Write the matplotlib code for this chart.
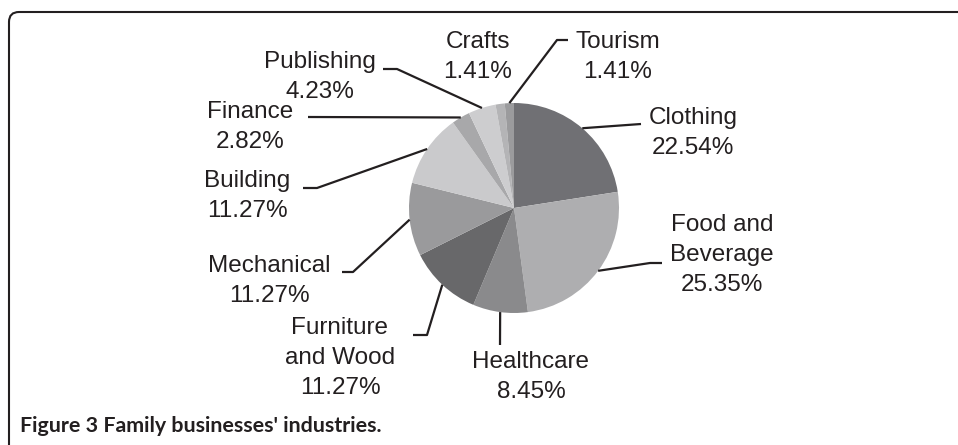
import numpy as np
import matplotlib.pyplot as plt
from matplotlib.patches import FancyBboxPatch

W, H = 958, 445

industries = ["Clothing", "Food and\nBeverage", "Healthcare", "Furniture\nand Wood",
              "Mechanical", "Building", "Finance", "Publishing", "Crafts", "Tourism"]
shares = [22.54, 25.35, 8.45, 11.27, 11.27, 11.27, 2.82, 4.23, 1.41, 1.41]
greys = ["#707074", "#aeaeb0", "#8a8a8c", "#68686a", "#9a9a9c",
         "#cacacc", "#a8a8aa", "#cdcdcf", "#b4b4b6", "#9b9b9d"]

# label centres and leader points, pixels from top-left
label_xy = [(693, 133), (722, 255), (531, 377), (340, 358), (269, 281),
            (247, 196), (250, 127), (320, 77), (478, 57), (618, 57)]
leaders = [[(641, 124)], [(650, 263), (662, 263)], [(500, 345)],
           [(427, 335), (413, 335)], [(353, 272), (342, 272)],
           [(317, 188), (303, 188)], [(308, 117)], [(397, 69), (383, 69)],
           None, [(557, 40), (568, 40)]]

cx, cy, r = 514, H - 208, 105
ink = "#231f20"

fig = plt.figure(figsize=(W / 100, H / 100), dpi=100)
ax = fig.add_axes([0, 0, 1, 1])
ax.pie(shares, colors=greys, startangle=90, counterclock=False,
       center=(cx, cy), radius=r, wedgeprops=dict(linewidth=0))
ax.set_xlim(0, W)
ax.set_ylim(0, H)
ax.set_aspect("equal")
ax.axis("off")

total = sum(shares)
before = np.cumsum([0] + shares[:-1])
for name, v, b, (lx, ly), lead in zip(industries, shares, before, label_xy, leaders):
    ax.text(lx, H - ly, f"{name}\n{v:.2f}%", ha="center", va="center",
            multialignment="center", fontsize=17.5, family="Liberation Sans",
            color=ink, linespacing=1.47)
    if lead is None:
        continue
    ang = np.radians(90 - 360 * (b + v / 2) / total)
    xs = [cx + r * np.cos(ang)] + [p[0] for p in lead]
    ys = [cy + r * np.sin(ang)] + [H - p[1] for p in lead]
    ax.plot(xs, ys, color=ink, lw=1.6, solid_capstyle="butt")

# frame around the figure panel
frame = FancyBboxPatch((9, -60), W + 60, H - 12 + 60,
                       boxstyle="round,pad=0,rounding_size=10",
                       fill=False, edgecolor=ink, lw=1.5)
ax.add_patch(frame)

ax.text(20, H - 426, "Figure 3 Family businesses' industries.", ha="left",
        va="center", fontsize=15.4, fontweight="bold", family="Lato", color=ink)

fig.savefig("out.png", dpi=100)
